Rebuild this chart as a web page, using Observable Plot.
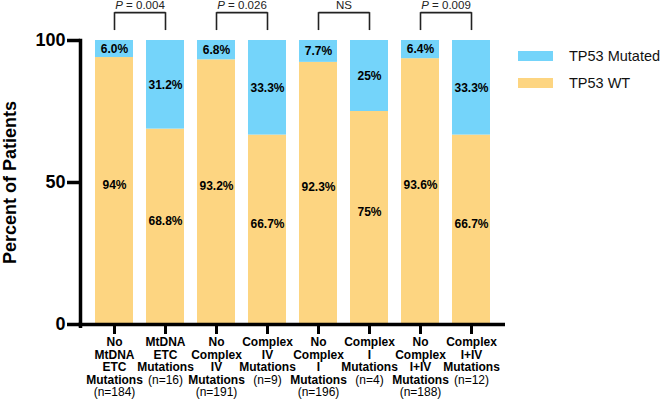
<!DOCTYPE html>
<html><head><meta charset="utf-8">
<script src="https://cdn.jsdelivr.net/npm/d3@7"></script>
<script src="https://cdn.jsdelivr.net/npm/@observablehq/plot@0.6"></script>
<style>
body{margin:0;background:#fff;}
#wrap{position:relative;width:663px;height:400px;font-family:"Liberation Sans",Arial,Helvetica,sans-serif;color:#000;}
#wrap svg{position:absolute;left:0;top:0;overflow:visible;}
.legend{position:absolute;left:518px;top:47px;font-size:14.5px;color:#111;}
.item{display:flex;align-items:center;height:17px;margin-bottom:10px;}
.sw{width:35px;height:10px;margin-right:16px;}
</style></head><body><div id="wrap"></div>
<script>
const groups = [
  "No\nMtDNA\nETC\nMutations", "MtDNA\nETC\nMutations",
  "No\nComplex\nIV\nMutations", "Complex\nIV\nMutations",
  "No\nComplex\nI\nMutations", "Complex\nI\nMutations",
  "No\nComplex\nI+IV\nMutations", "Complex\nI+IV\nMutations"
];
const nLabels = ["(n=184)", "(n=16)", "(n=191)", "(n=9)", "(n=196)", "(n=4)", "(n=188)", "(n=12)"];
const series = ["TP53 WT", "TP53 Mutated"];
const wtPct = [94, 68.8, 93.2, 66.7, 92.3, 75, 93.6, 66.7];
const mutPct = [6.0, 31.2, 6.8, 33.3, 7.7, 25, 6.4, 33.3];
const wtLabels = ["94%", "68.8%", "93.2%", "66.7%", "92.3%", "75%", "93.6%", "66.7%"];
const mutLabels = ["6.0%", "31.2%", "6.8%", "33.3%", "7.7%", "25%", "6.4%", "33.3%"];
const colors = ["#FDD581", "#74D4FA"];
const yTicks = [0, 50, 100];
const pairLeft = [0, 2, 4, 6];
const pairRight = [1, 3, 5, 7];
const pLabels = ["P = 0.004", "P = 0.026", "NS", "P = 0.009"];

const rows = [];
groups.forEach((g, i) => {
  rows.push({group: g, series: series[0], value: wtPct[i], label: wtLabels[i]});
  rows.push({group: g, series: series[1], value: mutPct[i], label: mutLabels[i]});
});
const brackets = pairLeft.map((l, k) => ({left: groups[l], right: groups[pairRight[k]], p: pLabels[k]}));
const nRows = groups.map((g, i) => ({group: g, text: "\n".repeat(g.split("\n").length) + nLabels[i]}));

const W = 663, H = 400, mL = 80, mR = 158, mT = 40, mB = 76;
const xOpts = {type: "band", domain: groups, paddingInner: 0.256, paddingOuter: 0.29};
const xs = Plot.scale({x: {...xOpts, range: [mL, W - mR]}});
const half = (xs.step ?? xs.bandwidth / (1 - 0.256)) / 2;
const font = '"Liberation Sans", Arial, Helvetica, sans-serif';
const stackOpts = {x: "group", y: "value", z: "series", order: series};

const plot = Plot.plot({
  width: W, height: H, marginLeft: mL, marginRight: mR, marginTop: mT, marginBottom: mB,
  style: {fontFamily: font, background: "transparent", overflow: "visible", color: "#000"},
  x: {...xOpts, label: null},
  y: {domain: [0, 100], label: null},
  color: {domain: series, range: colors},
  marks: [
    Plot.barY(rows, {x: "group", y: "value", fill: "series", order: series}),
    Plot.text(rows, Plot.stackY({...stackOpts, text: d => d.series === series[1] ? d.label : null, fontWeight: "bold", fontSize: 12})),
    Plot.text(rows, Plot.stackY({...stackOpts, text: d => d.series === series[0] ? d.label : null, fontWeight: "bold", fontSize: 12, dy: -6})),
    Plot.axisY({ticks: yTicks, tickSize: 13, tickPadding: 2, fontSize: 18, fontWeight: "bold", strokeWidth: 3.5,
      label: "Percent of Patients", labelAnchor: "center", labelOffset: 77, labelArrow: "none"}),
    Plot.axisX({tickSize: 10, strokeWidth: 3, tickFormat: () => "", label: null}),
    Plot.ruleY([0], {strokeWidth: 3.5, insetLeft: -1.75}),
    Plot.frame({anchor: "left", strokeWidth: 3.5, insetBottom: -1.75}),
    Plot.text(groups, {x: d => d, text: d => d, frameAnchor: "bottom", lineAnchor: "top", dy: 12.5, fontSize: 12, fontWeight: "bold", lineHeight: 1.05}),
    Plot.text(nRows, {x: "group", text: "text", frameAnchor: "bottom", lineAnchor: "top", dy: 12.5, fontSize: 12, lineHeight: 1.05}),
    Plot.link(brackets, {x1: "left", x2: "right", y1: 109.8, y2: 109.8, stroke: "#222", strokeWidth: 1.6}),
    Plot.ruleX(brackets, {x: "left", y1: 103.5, y2: 109.8, stroke: "#222", strokeWidth: 1.6}),
    Plot.ruleX(brackets, {x: "right", y1: 103.5, y2: 109.8, stroke: "#222", strokeWidth: 1.6}),
    Plot.text(brackets, {x: "left", y: 112.5, text: "p", dx: half, fontSize: 11.5, fill: "#222"})
  ]
});

// italic P in the p-value labels
d3.select(plot).selectAll("text").each(function () {
  const t = this.textContent;
  if (this.childElementCount === 0 && /^P = /.test(t)) {
    const s = d3.select(this);
    s.text(null);
    s.append("tspan").attr("font-style", "italic").text("P");
    s.append("tspan").text(t.slice(1));
  }
});

const wrap = document.getElementById("wrap");
wrap.appendChild(plot);
const legend = document.createElement("div");
legend.className = "legend";
[series[1], series[0]].forEach(s => {
  const it = document.createElement("div");
  it.className = "item";
  const sw = document.createElement("div");
  sw.className = "sw";
  sw.style.background = colors[series.indexOf(s)];
  const lb = document.createElement("span");
  lb.textContent = s;
  it.appendChild(sw); it.appendChild(lb);
  legend.appendChild(it);
});
wrap.appendChild(legend);
</script>
</body></html>
